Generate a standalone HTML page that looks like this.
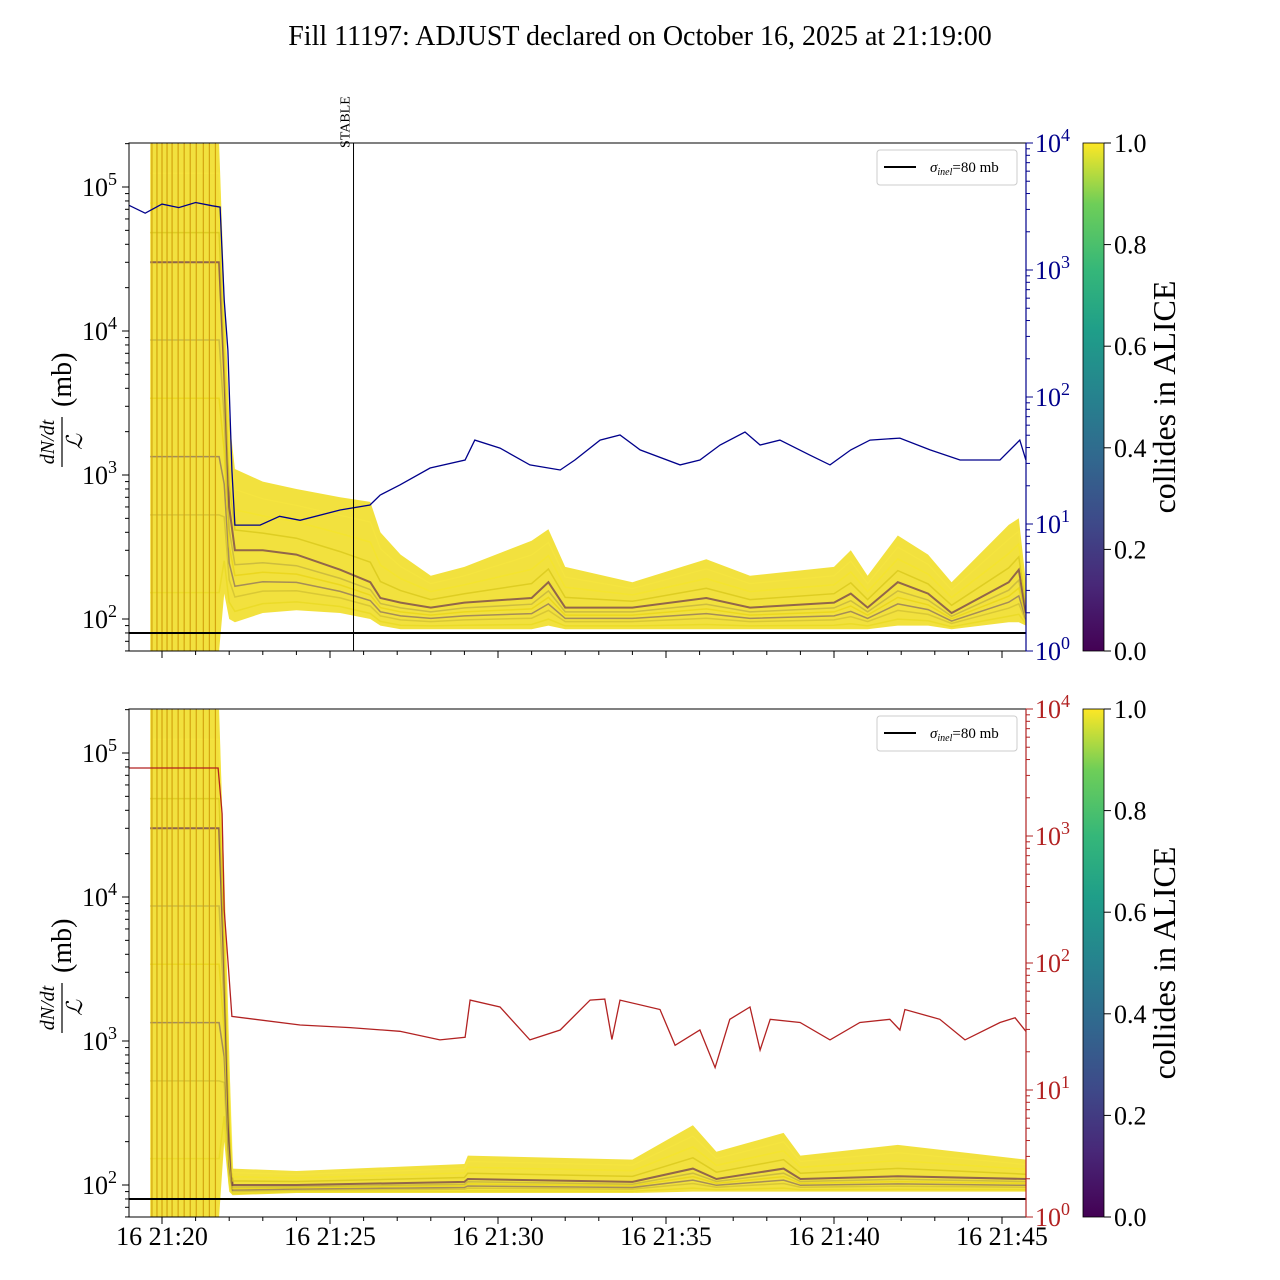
<!DOCTYPE html>
<html><head><meta charset="utf-8"><style>
html,body{margin:0;padding:0;background:#fff;}
svg{display:block;font-family:"Liberation Serif",serif;}
</style></head><body>
<svg id="c" width="1280" height="1280" viewBox="0 0 1280 1280" xmlns="http://www.w3.org/2000/svg"></svg>
<script>
// ---------- data ----------
const blueT=[0,0.5,1.0,1.5,2.0,2.5,2.73,2.85,2.96,3.08,3.17,3.92,4.5,5.11,6.3,7.19,7.49,8.08,8.98,10.02,10.31,11.06,11.95,12.85,13.29,14.04,14.63,15.23,16.42,17.01,17.61,18.35,18.8,19.39,20.28,20.88,21.5,22.07,22.96,23.86,24.75,25.94,26.53,26.71];
const blueV=[3250,2800,3300,3100,3400,3200,3130,580,234,26.6,9.8,9.8,11.5,10.7,12.9,14.1,16.9,20.3,27.6,31.9,45.8,39.6,29.2,26.6,31.9,45.8,50.2,38.3,29.2,31.9,41.9,53,41.9,45.8,34.9,29.2,38.3,45.8,47.5,38.3,31.9,31.9,45.8,31.9];
const redT=[0.02,2.67,2.79,2.85,2.96,3.08,5.11,6.6,8.08,9.27,10.02,10.17,11.06,11.95,12.85,13.74,14.18,14.39,14.63,15.82,16.27,17.01,17.46,17.9,18.5,18.8,19.1,19.99,20.88,21.77,22.66,22.96,23.11,24.15,24.9,25.94,26.39,26.71];
const redV=[3430,3430,1500,261,105,38,32.5,31,29,24.8,26,51,45,24.8,29.7,51,52,25,51,43,22.5,29.7,15,36,45,20.6,36,34,24.8,34,36,29.7,43,36,24.8,34,37,29];
const topBandT=[0.65,2.7,2.85,3.0,3.17,4.0,5.0,6.3,7.2,7.5,8.1,9.0,10.0,12.0,12.5,13.0,15,17.2,18.5,21,21.5,22.0,22.9,23.8,24.5,26.2,26.5,26.71];
const topLo=[60,60,150,100,95,110,115,110,100,90,85,85,85,85,90,85,85,85,85,85,85,85,90,90,85,95,95,90];
const topMid=[30000,30000,5000,600,300,300,280,220,180,140,130,120,130,140,180,120,120,140,120,130,150,120,180,150,110,180,220,110];
const topHi=[200000,200000,20000,2500,1100,900,800,700,650,400,280,200,230,350,420,230,180,260,200,230,300,200,380,280,180,450,500,180];
const botBandT=[0.65,2.7,2.85,3.0,3.1,5,10,10.1,15,16.8,17.5,19.5,20,22.9,26.71];
const botLo=[60,60,200,90,85,88,88,88,88,90,90,90,90,90,90];
const botMid=[30000,30000,3000,200,100,100,105,110,105,130,110,130,110,115,110];
const botHi=[200000,200000,15000,800,130,125,140,160,150,260,170,230,160,190,150];
const xTickT=[1,6,11,16,21,26];
const xTickLabels=["16 21:20","16 21:25","16 21:30","16 21:35","16 21:40","16 21:45"];
const cbTicks=[0,0.2,0.4,0.6,0.8,1.0];
const sigma=80;
const stableT=6.7;
const earlyLinesT=[0.7,0.85,1.0,1.15,1.3,1.48,1.66,1.84,2.02,2.23,2.41,2.59];

// ---------- helpers ----------
const svg=document.getElementById('c');
const NS='http://www.w3.org/2000/svg';
function el(tag,attrs,parent){const e=document.createElementNS(NS,tag);for(const k in attrs)e.setAttribute(k,attrs[k]);(parent||svg).appendChild(e);return e;}
const X0=128.4,XS=33.6,AXL=129,AXR=1026;
const xs=t=>X0+t*XS;
function panel(top){
  const bot=top+508;
  return {top,bot,
    yl:v=>top+44+(5-Math.log10(v))*144,
    yr:v=>top+(4-Math.log10(v))*127};
}
const P=[panel(143),panel(709)];

const ttl=el('text',{x:640,y:45,'text-anchor':'middle','font-size':28});


ttl.textContent='Fill 11197: ADJUST declared on October 16, 2025 at 21:19:00';

function pathD(ts,vs,fx,fy){return ts.map((t,i)=>(i?'L':'M')+fx(t).toFixed(1)+','+fy(vs[i]).toFixed(1)).join(' ');}

function drawPanel(p,idx,bT,lo,mid,hi,lineT,lineV,lineColor,showX){
  const g=el('g',{});
  
  
  const clipId='clip'+idx;
  const cp=el('clipPath',{id:clipId},g);el('rect',{x:AXL,y:p.top,width:AXR-AXL,height:508},cp);
  const pg=el('g',{'clip-path':'url(#'+clipId+')'},g);
  let d=bT.map((t,i)=>(i?'L':'M')+xs(t).toFixed(1)+','+p.yl(hi[i]).toFixed(1)).join(' ');
  for(let i=bT.length-1;i>=0;i--)d+=' L'+xs(bT[i]).toFixed(1)+','+p.yl(lo[i]).toFixed(1);
  const band=el('path',{d:d+' Z',fill:'#f0dc1c','fill-opacity':0.85,stroke:'none'},pg);
  
  
  const fr=[[0.15,'#e8d820',0.7],[0.35,'#c8b830',0.6],[0.5,'#5a3a70',0.5],[0.65,'#e8d418',0.8],[0.8,'#a89840',0.5],[1.0,'#440154',0.55],[1.25,'#d8c81c',0.8],[1.5,'#f5e52a',0.7],[1.75,'#f8e840',0.5]];
  fr.forEach(([f,c,o])=>{
    const vals=bT.map((t,i)=>{const a=Math.log10(lo[i]),m=Math.log10(mid[i]),h=Math.log10(hi[i]);
      const L=f<=1?a+(m-a)*f:m+(h-m)*(f-1);return Math.pow(10,L);});
    const l=el('path',{d:pathD(bT,vals,xs,p.yl),fill:'none',stroke:c,'stroke-width':f==1?2:1.5,'stroke-opacity':o},pg);
    
    
  });
  earlyLinesT.forEach(t=>{
    const l=el('line',{x1:xs(t),x2:xs(t),y1:p.top,y2:p.bot,stroke:'#d4a410','stroke-width':1.2},pg);
    
    
  });
  const sl=el('line',{x1:AXL,x2:AXR,y1:p.yl(sigma),y2:p.yl(sigma),stroke:'#000','stroke-width':2},pg);
  
  
  const rl=el('path',{d:pathD(lineT,lineV,xs,p.yr),fill:'none',stroke:lineColor,'stroke-width':1.3},pg);
  
  
  if(idx===0){
    const st=el('line',{x1:xs(stableT),x2:xs(stableT),y1:p.top,y2:p.bot,stroke:'#000','stroke-width':1},g);
    
    
    const tx=el('text',{transform:`translate(${xs(stableT)-4},148) rotate(-90)`,'font-size':14},g);
    
    
    tx.textContent='STABLE';
  }
  const fr2=el('rect',{x:AXL,y:p.top,width:AXR-AXL,height:508,fill:'none',stroke:'#000','stroke-width':1},g);
  
  
  for(let e=1;e<=5;e++){
    for(let m=1;m<10;m++){
      const v=m*Math.pow(10,e);const y=p.yl(v);if(y<p.top||y>p.bot)continue;
      el('line',{x1:AXL,x2:AXL-(m==1?7:4),y1:y,y2:y,stroke:'#000','stroke-width':1},g);
      if(m==1&&e>=2){
        const t=el('text',{x:AXL-12,y:y+9,'text-anchor':'end','font-size':26},g);
        
        
        t.innerHTML='10<tspan dy="-11" font-size="18">'+e+'</tspan>';
      }
    }
  }
  for(let e=0;e<=4;e++){
    for(let m=1;m<10;m++){
      const v=m*Math.pow(10,e);const y=p.yr(v);if(y<p.top-0.5||y>p.bot+0.5)continue;
      el('line',{x1:AXR,x2:AXR+(m==1?7:4),y1:y,y2:y,stroke:lineColor,'stroke-width':1},g);
      if(m==1){
        const t=el('text',{x:AXR+9,y:y+9,'font-size':26,fill:lineColor},g);
        
        
        t.innerHTML='10<tspan dy="-11" font-size="18">'+e+'</tspan>';
      }
    }
  }
  el('line',{x1:AXR,x2:AXR,y1:p.top,y2:p.bot,stroke:lineColor,'stroke-width':1.2},g);
  xTickT.forEach((t,i)=>{
    el('line',{x1:xs(t),x2:xs(t),y1:p.bot,y2:p.bot+7,stroke:'#000'},g);
    if(showX){
      const tx=el('text',{x:xs(t),y:p.bot+28,'text-anchor':'middle','font-size':26},g);
      
      
      tx.textContent=xTickLabels[i];
    }
  });
  for(let t=0;t<=27;t++){if(t%5==1)continue;const x=xs(t);if(x<AXL||x>AXR)continue;el('line',{x1:x,x2:x,y1:p.bot,y2:p.bot+4,stroke:'#000'},g);}
  const yl=el('g',{transform:`translate(62,${p.top+254}) rotate(-90)`},g);
  
  
  const t1=el('text',{x:-45,y:-8,'text-anchor':'middle','font-size':20,'font-style':'italic'},yl);t1.textContent='dN/dt';
  el('line',{x1:-70,x2:-20,y1:0,y2:0,stroke:'#000','stroke-width':1.2},yl);
  const t2=el('text',{x:-45,y:20,'text-anchor':'middle','font-size':22,'font-style':'italic'},yl);t2.textContent='ℒ';
  const t3=el('text',{x:-10,y:9,'font-size':28},yl);t3.textContent='(mb)';
  const lg=el('g',{},g);
  
  
  el('rect',{x:877,y:p.top+7,width:140,height:35,rx:3,fill:'#fff',stroke:'#ccc'},lg);
  el('line',{x1:884,x2:916,y1:p.top+24,y2:p.top+24,stroke:'#000','stroke-width':2},lg);
  const lt=el('text',{x:930,y:p.top+29,'font-size':15},lg);
  
  
  lt.innerHTML='<tspan font-style="italic">σ</tspan><tspan font-size="10" dy="3" font-style="italic">inel</tspan><tspan dy="-3">=80 mb</tspan>';
  const cb=el('g',{},g);
  
  
  const gid='vir'+idx;
  const lgd=el('linearGradient',{id:gid,x1:0,y1:1,x2:0,y2:0},cb);
  [['0','#440154'],['0.13','#482878'],['0.25','#3e4989'],['0.38','#31688e'],['0.5','#26828e'],['0.63','#1f9e89'],['0.75','#35b779'],['0.88','#6ece58'],['1','#fde725']].forEach(([o,c])=>el('stop',{offset:o,'stop-color':c},lgd));
  el('rect',{x:1083,y:p.top,width:21,height:508,fill:`url(#${gid})`,stroke:'#000','stroke-width':0.8},cb);
  cbTicks.forEach(v=>{
    const y=p.bot-v*508;
    el('line',{x1:1104,x2:1111,y1:y,y2:y,stroke:'#000'},cb);
    const tt=el('text',{x:1114,y:y+9,'font-size':26},cb);
    
    
    tt.textContent=v.toFixed(1);
  });
  const ct=el('text',{transform:`translate(1175,${p.top+254}) rotate(-90)`,'text-anchor':'middle','font-size':32},cb);
  
  
  ct.textContent='collides in ALICE';
}
drawPanel(P[0],0,topBandT,topLo,topMid,topHi,blueT,blueV,'#00008b',false);
drawPanel(P[1],1,botBandT,botLo,botMid,botHi,redT,redV,'#b22222',true);
</script>
</body></html>
